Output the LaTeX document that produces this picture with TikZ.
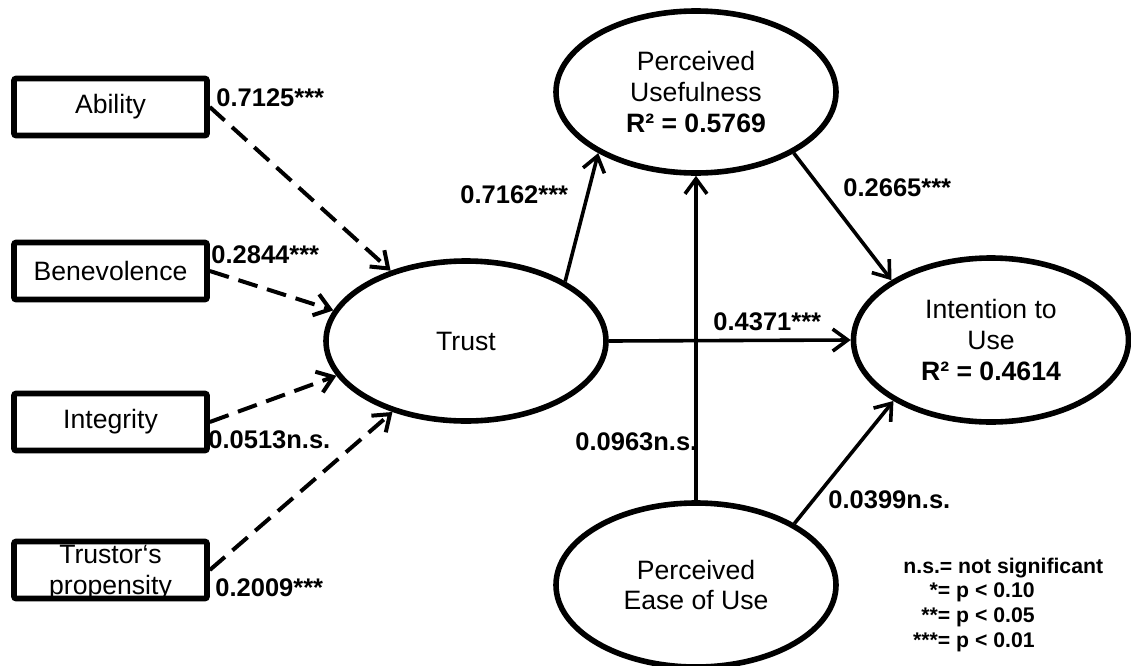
\documentclass[tikz,border=0pt]{standalone}
\usepackage{fontspec}
\setmainfont{Liberation Sans}
\usetikzlibrary{shapes.geometric, arrows.meta}

\begin{document}
\begin{tikzpicture}[x=0.5pt, y=-0.5pt,
    font=\fontsize{13.3}{15.3}\selectfont,
    itembox/.style={draw, line width=2.8pt, rounded corners=1pt, minimum width=96.5pt, minimum height=28.5pt, inner sep=0pt, align=center},
    construct/.style={draw, ellipse, line width=2.8pt, minimum width=140pt, minimum height=81pt, inner sep=0pt, align=center},
    effect/.style={line width=1.8pt, -{Straight Barb[length=7.5pt, width=11pt]}},
    weak/.style={effect, line width=2pt, dash pattern=on 10pt off 5pt},
    coef/.style={font=\fontsize{12.75}{15.3}\selectfont\bfseries, inner sep=0pt, anchor=west},
    note/.style={font=\fontsize{10.6}{12.5}\selectfont\bfseries, inner sep=0pt}]
            \useasboundingbox (0,0) rectangle (1131,665);
            \node[itembox] (ability) at (110.5,107) {Ability};
            \node[itembox] (benevolence) at (110.5,271) {Benevolence};
            \node[itembox] (integrity) at (110.5,422) {Integrity};
            \node[itembox, text depth=0pt] (propensity) at (110.5,570) {Trustor‘s\\propensity};
            \node[construct, minimum height=80pt] (trust) at (466,341) {Trust};
            \node[construct] (pu) at (696,92) {Perceived\\Usefulness\\\textbf{R² = 0.5769}};
            \node[construct, minimum width=137.5pt, minimum height=82pt] (itu) at (991,340) {Intention to\\Use\\\textbf{R² = 0.4614}};
            \node[construct, minimum height=82pt] (peou) at (696,585) {Perceived\\Ease of Use};
            \draw[weak] (ability.east) -- (trust.137);
            \draw[weak] (benevolence.east) -- (trust.167);
            \draw[weak] (integrity.east) -- (trust.195);
            \draw[weak] (propensity.east) -- (trust.224);
            \draw[effect] (trust.31) -- (pu.212);
            \draw[effect] (trust.east) -- (itu.west);
            \draw[effect] (peou.north) -- (pu.south);
            \draw[effect] (pu.328) -- (itu.149);
            \draw[effect] (peou.32) -- (itu.212);
            \node[coef] (c1) at (216,98) {0.7125***};
            \node[coef] (c2) at (211,255) {0.2844***};
            \node[coef] (c3) at (208,440) {0.0513n.s.};
            \node[coef] (c4) at (215,588) {0.2009***};
            \node[coef] (c5) at (460,195) {0.7162***};
            \node[coef] (c6) at (843,188) {0.2665***};
            \node[coef] (c7) at (713,322) {0.4371***};
            \node[coef] (c8) at (575,442) {0.0963n.s.};
            \node[coef] (c9) at (828,500) {0.0399n.s.};
            % legend
            \node[note, anchor=base west] (ns) at (903,573) {n.s.= not significant};
            \node[note, anchor=base east] (p1) at (1035,597) {*= p < 0.10};
            \node[note, anchor=base east] (p2) at (1035,622) {**= p < 0.05};
            \node[note, anchor=base east] (p3) at (1035,647) {***= p < 0.01};
\end{tikzpicture}
\end{document}
